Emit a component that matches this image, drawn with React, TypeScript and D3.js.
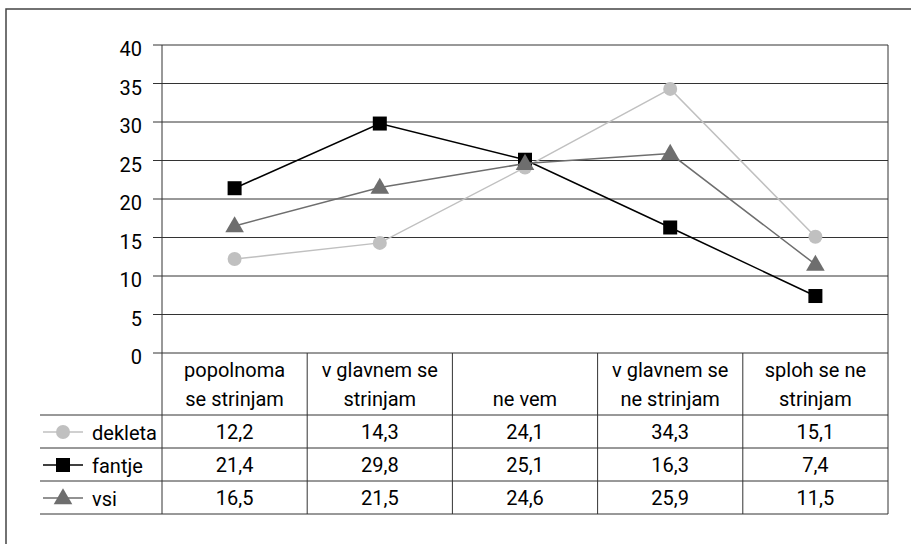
import React from "react";
import * as d3 from "d3";

const categories = [
  ["popolnoma", "se strinjam"],
  ["v glavnem se", "strinjam"],
  ["ne vem"],
  ["v glavnem se", "ne strinjam"],
  ["sploh se ne", "strinjam"],
];
const catKeys = ["c1", "c2", "c3", "c4", "c5"];
const dekleta = [12.2, 14.3, 24.1, 34.3, 15.1];
const fantje = [21.4, 29.8, 25.1, 16.3, 7.4];
const vsi = [16.5, 21.5, 24.6, 25.9, 11.5];
const yTicks = [0, 5, 10, 15, 20, 25, 30, 35, 40];

const series = [
  { name: "dekleta", values: dekleta, color: "#c0c0c0", marker: "circle" },
  { name: "fantje", values: fantje, color: "#000000", marker: "square" },
  { name: "vsi", values: vsi, color: "#6e6e6e", marker: "triangle" },
];

const fmt = (v: number) => v.toFixed(1).replace(".", ",");
const FONT = "Roboto, 'Liberation Sans', sans-serif";

function Marker({ type, x, y, color }: { type: string; x: number; y: number; color: string }) {
  if (type === "circle") return <circle cx={x} cy={y} r={7} fill={color} />;
  if (type === "square") return <rect x={x - 7} y={y - 7} width={14} height={14} fill={color} />;
  const sym = d3.symbol().type(d3.symbolTriangle).size(150)();
  return <path d={sym as string} transform={`translate(${x},${y + 1})`} fill={color} />;
}

export default function App() {
  const left = 162, right = 888, top = 45, zero = 353;
  const x = d3.scaleBand<string>().domain(catKeys).range([left, right]).padding(0);
  const y = d3.scaleLinear().domain([0, 40]).range([zero, top]);
  const headerBottom = 415;
  const rowH = 33;
  const rowTops = series.map((_, i) => headerBottom + i * rowH);
  const tableBottom = headerBottom + series.length * rowH;
  const line = d3.line<number>().x((_, i) => (x(catKeys[i]) as number) + x.bandwidth() / 2).y((d) => y(d));
  const stroke = "#333";
  return (
    <svg width={911} height={544} style={{ position: "absolute", left: 0, top: 0, background: "#fff" }} fontFamily={FONT}>
      <rect x={6} y={9} width={910} height={540} fill="#fff" stroke="#444" strokeWidth={1.5} />
      {yTicks.map((t) => (
        <g key={t}>
          <line x1={153} x2={right} y1={y(t)} y2={y(t)} stroke={stroke} strokeWidth={1} />
          <text x={142} y={y(t) + 11} textAnchor="end" fontSize={20} fill="#000">{t}</text>
        </g>
      ))}
      <line x1={left} x2={left} y1={top} y2={tableBottom} stroke={stroke} />
      <line x1={right} x2={right} y1={top} y2={tableBottom} stroke={stroke} />
      {catKeys.slice(1).map((k) => (
        <line key={k} x1={x(k)} x2={x(k)} y1={zero} y2={tableBottom} stroke={stroke} />
      ))}
      {[headerBottom, ...rowTops.slice(1), tableBottom].map((ry, i) => (
        <line key={i} x1={40} x2={right} y1={ry} y2={ry} stroke={stroke} />
      ))}
      {categories.map((lines, i) => {
        const cx = (x(catKeys[i]) as number) + x.bandwidth() / 2;
        const n = lines.length;
        return lines.map((l, j) => (
          <text key={`${i}-${j}`} x={cx} y={406 - (n - 1 - j) * 29} textAnchor="middle" fontSize={20} fill="#000">{l}</text>
        ));
      })}
      {series.map((s, si) => (
        <g key={s.name}>
          <line x1={43} x2={83} y1={rowTops[si] + 17} y2={rowTops[si] + 17} stroke={s.color} strokeWidth={1.5} />
          <Marker type={s.marker} x={63} y={rowTops[si] + 17} color={s.color} />
          <text x={92} y={rowTops[si] + 25} fontSize={20} fill="#000">{s.name}</text>
          {s.values.map((v, i) => (
            <text key={i} x={(x(catKeys[i]) as number) + x.bandwidth() / 2} y={rowTops[si] + 24} textAnchor="middle" fontSize={20} fill="#000">{fmt(v)}</text>
          ))}
        </g>
      ))}
      {series.map((s) => (
        <g key={s.name + "-l"}>
          <path d={line(s.values) as string} fill="none" stroke={s.color} strokeWidth={1.5} />
          {s.values.map((v, i) => (
            <Marker key={i} type={s.marker} x={(x(catKeys[i]) as number) + x.bandwidth() / 2} y={y(v)} color={s.color} />
          ))}
        </g>
      ))}
    </svg>
  );
}
